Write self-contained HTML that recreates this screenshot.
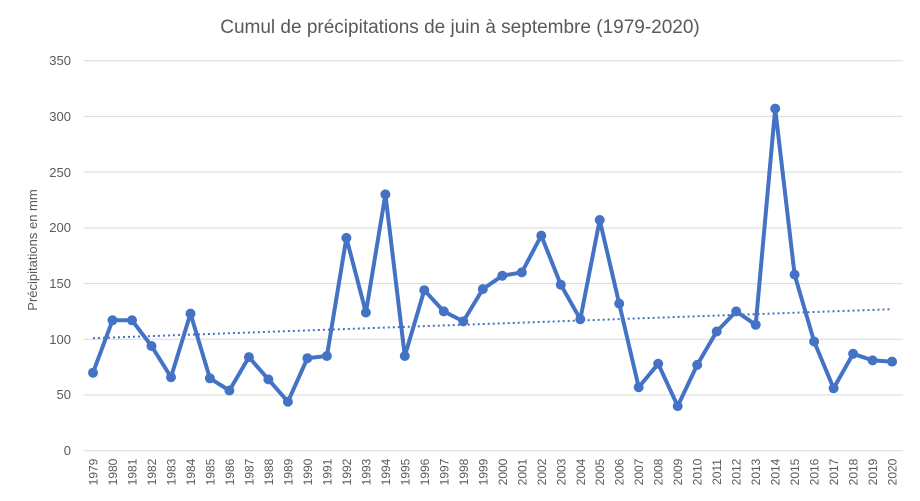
<!DOCTYPE html>
<html><head><meta charset="utf-8"><style>body{margin:0;background:#fff}svg{display:block}text{font-family:"Liberation Sans",sans-serif;fill:#595959}</style></head><body>
<svg width="920" height="501" viewBox="0 0 920 501" xmlns="http://www.w3.org/2000/svg">
<rect width="920" height="501" fill="#fff"/>
<text x="460" y="33" font-size="19" text-anchor="middle">Cumul de précipitations de juin à septembre (1979-2020)</text>
<g stroke="#d9d9d9" stroke-width="1">
<line x1="84" x2="903" y1="60.7" y2="60.7"/><line x1="84" x2="903" y1="116.4" y2="116.4"/><line x1="84" x2="903" y1="172.1" y2="172.1"/><line x1="84" x2="903" y1="227.9" y2="227.9"/><line x1="84" x2="903" y1="283.6" y2="283.6"/><line x1="84" x2="903" y1="339.3" y2="339.3"/><line x1="84" x2="903" y1="395" y2="395"/><line x1="84" x2="903" y1="450.7" y2="450.7"/>
</g>
<g font-size="13" text-anchor="end">
<text x="71" y="65">350</text><text x="71" y="121">300</text><text x="71" y="177">250</text><text x="71" y="232">200</text><text x="71" y="288">150</text><text x="71" y="344">100</text><text x="71" y="399">50</text><text x="71" y="455">0</text>
</g>
<text transform="translate(37,250) rotate(-90)" font-size="13" text-anchor="middle">Précipitations en mm</text>
<line x1="93" y1="338.2" x2="892.1" y2="309.2" stroke="#4472c4" stroke-width="2" stroke-dasharray="2,3"/>
<g id="pts" fill="#4472c4"></g>
<polyline fill="none" stroke="#4472c4" stroke-width="4" stroke-linejoin="round" points="93,372.7 112.5,320.3 132,320.3 151.5,346 171,377.2 190.5,313.6 209.9,378.3 229.4,390.5 248.9,357.1 268.4,379.4 287.9,401.7 307.4,358.2 326.9,356 346.4,237.9 365.9,312.5 385.4,194.4 404.8,356 424.3,290.2 443.8,311.4 463.3,321.4 482.8,289.1 502.3,275.7 521.8,272.4 541.3,235.6 560.8,284.7 580.3,319.2 599.7,220 619.2,303.6 638.7,387.2 658.2,363.8 677.7,406.1 697.2,364.9 716.7,331.5 736.2,311.4 755.7,324.8 775.2,108.6 794.6,274.6 814.1,341.5 833.6,388.3 853.1,353.8 872.6,360.4 892.1,361.6"/>
<g fill="#4472c4">
<circle cx="93" cy="372.7" r="5"/><circle cx="112.5" cy="320.3" r="5"/><circle cx="132" cy="320.3" r="5"/><circle cx="151.5" cy="346" r="5"/><circle cx="171" cy="377.2" r="5"/><circle cx="190.5" cy="313.6" r="5"/><circle cx="209.9" cy="378.3" r="5"/><circle cx="229.4" cy="390.5" r="5"/><circle cx="248.9" cy="357.1" r="5"/><circle cx="268.4" cy="379.4" r="5"/><circle cx="287.9" cy="401.7" r="5"/><circle cx="307.4" cy="358.2" r="5"/><circle cx="326.9" cy="356" r="5"/><circle cx="346.4" cy="237.9" r="5"/><circle cx="365.9" cy="312.5" r="5"/><circle cx="385.4" cy="194.4" r="5"/><circle cx="404.8" cy="356" r="5"/><circle cx="424.3" cy="290.2" r="5"/><circle cx="443.8" cy="311.4" r="5"/><circle cx="463.3" cy="321.4" r="5"/><circle cx="482.8" cy="289.1" r="5"/><circle cx="502.3" cy="275.7" r="5"/><circle cx="521.8" cy="272.4" r="5"/><circle cx="541.3" cy="235.6" r="5"/><circle cx="560.8" cy="284.7" r="5"/><circle cx="580.3" cy="319.2" r="5"/><circle cx="599.7" cy="220" r="5"/><circle cx="619.2" cy="303.6" r="5"/><circle cx="638.7" cy="387.2" r="5"/><circle cx="658.2" cy="363.8" r="5"/><circle cx="677.7" cy="406.1" r="5"/><circle cx="697.2" cy="364.9" r="5"/><circle cx="716.7" cy="331.5" r="5"/><circle cx="736.2" cy="311.4" r="5"/><circle cx="755.7" cy="324.8" r="5"/><circle cx="775.2" cy="108.6" r="5"/><circle cx="794.6" cy="274.6" r="5"/><circle cx="814.1" cy="341.5" r="5"/><circle cx="833.6" cy="388.3" r="5"/><circle cx="853.1" cy="353.8" r="5"/><circle cx="872.6" cy="360.4" r="5"/><circle cx="892.1" cy="361.6" r="5"/>
</g>
<g font-size="12" text-anchor="middle">
<text transform="translate(97.5,472) rotate(-90)">1979</text><text transform="translate(117,472) rotate(-90)">1980</text><text transform="translate(136.5,472) rotate(-90)">1981</text><text transform="translate(156,472) rotate(-90)">1982</text><text transform="translate(175.5,472) rotate(-90)">1983</text><text transform="translate(195,472) rotate(-90)">1984</text><text transform="translate(214.4,472) rotate(-90)">1985</text><text transform="translate(233.9,472) rotate(-90)">1986</text><text transform="translate(253.4,472) rotate(-90)">1987</text><text transform="translate(272.9,472) rotate(-90)">1988</text><text transform="translate(292.4,472) rotate(-90)">1989</text><text transform="translate(311.9,472) rotate(-90)">1990</text><text transform="translate(331.4,472) rotate(-90)">1991</text><text transform="translate(350.9,472) rotate(-90)">1992</text><text transform="translate(370.4,472) rotate(-90)">1993</text><text transform="translate(389.9,472) rotate(-90)">1994</text><text transform="translate(409.3,472) rotate(-90)">1995</text><text transform="translate(428.8,472) rotate(-90)">1996</text><text transform="translate(448.3,472) rotate(-90)">1997</text><text transform="translate(467.8,472) rotate(-90)">1998</text><text transform="translate(487.3,472) rotate(-90)">1999</text><text transform="translate(506.8,472) rotate(-90)">2000</text><text transform="translate(526.3,472) rotate(-90)">2001</text><text transform="translate(545.8,472) rotate(-90)">2002</text><text transform="translate(565.3,472) rotate(-90)">2003</text><text transform="translate(584.8,472) rotate(-90)">2004</text><text transform="translate(604.2,472) rotate(-90)">2005</text><text transform="translate(623.7,472) rotate(-90)">2006</text><text transform="translate(643.2,472) rotate(-90)">2007</text><text transform="translate(662.7,472) rotate(-90)">2008</text><text transform="translate(682.2,472) rotate(-90)">2009</text><text transform="translate(701.7,472) rotate(-90)">2010</text><text transform="translate(721.2,472) rotate(-90)">2011</text><text transform="translate(740.7,472) rotate(-90)">2012</text><text transform="translate(760.2,472) rotate(-90)">2013</text><text transform="translate(779.7,472) rotate(-90)">2014</text><text transform="translate(799.1,472) rotate(-90)">2015</text><text transform="translate(818.6,472) rotate(-90)">2016</text><text transform="translate(838.1,472) rotate(-90)">2017</text><text transform="translate(857.6,472) rotate(-90)">2018</text><text transform="translate(877.1,472) rotate(-90)">2019</text><text transform="translate(896.6,472) rotate(-90)">2020</text>
</g>
</svg>
</body></html>
